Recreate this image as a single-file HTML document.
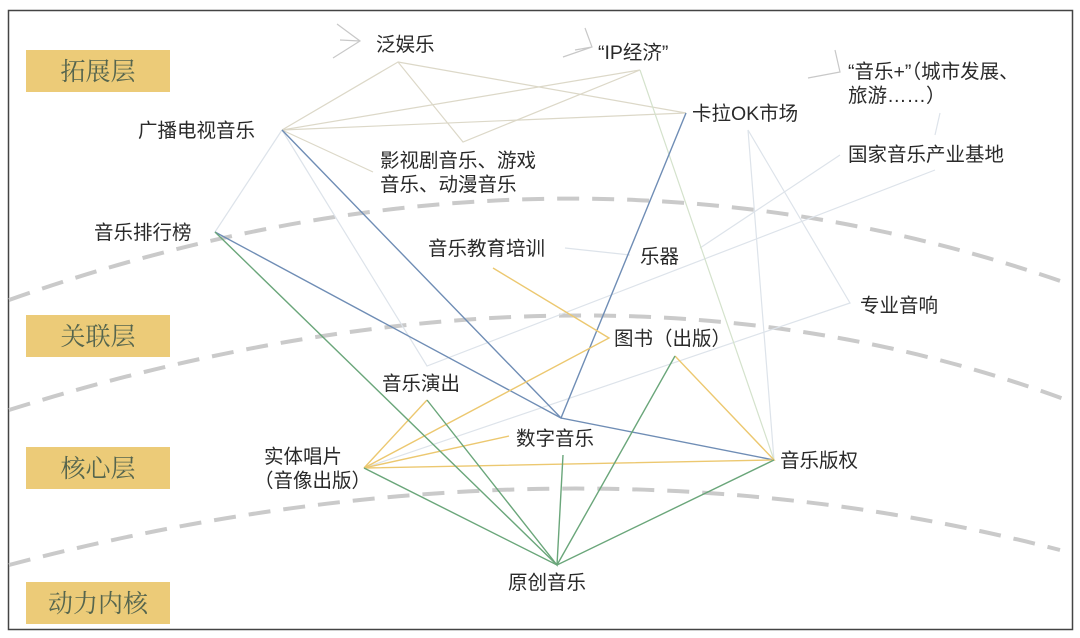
<!DOCTYPE html>
<html><head><meta charset="utf-8"><style>
body{margin:0;background:#fff;width:1080px;height:638px;overflow:hidden}
svg{display:block}
.t{font-family:"Liberation Sans","Noto Sans CJK SC",sans-serif;font-size:19.5px;fill:#2a2a2a}
.l{font-family:"Liberation Serif","Noto Serif CJK SC",serif;font-size:25px;fill:#55654e}
</style></head><body>
<svg width="1080" height="638" viewBox="0 0 1080 638">
<rect x="8.5" y="10.5" width="1064" height="619" fill="#fff" stroke="#444" stroke-width="1.5"/>
<g fill="none" stroke="#cacaca" stroke-width="4" stroke-dasharray="22 13">
<path d="M9 300 Q560 105 1072 285"/>
<path d="M9 410 Q600 225 1072 402"/>
<path d="M9 565 Q560 420 1060 550"/>
</g>
<g fill="#eccb78">
<rect x="26" y="50" width="144" height="42"/>
<rect x="26" y="315" width="144" height="42"/>
<rect x="26" y="447" width="144" height="42"/>
<rect x="26" y="582" width="144" height="42"/>
</g>
<text class="l" x="98" y="80" text-anchor="middle">拓展层</text>
<text class="l" x="98" y="345" text-anchor="middle">关联层</text>
<text class="l" x="98" y="477" text-anchor="middle">核心层</text>
<text class="l" x="98" y="612" text-anchor="middle">动力内核</text>
<g fill="none" stroke-width="1.2">
<g stroke="#dcd8c8">
<path d="M282 130 L398 62 L463 142 L640 70 L282 130"/>
<path d="M398 62 L686 113"/>
<path d="M282 130 L686 113"/>
<path d="M282 130 L373 172"/>
</g>
<g stroke="#dde3ea">
<path d="M282 130 L215 232"/>
<path d="M282 130 L427 366 L935 170"/>
<path d="M840 155 L700 248"/>
<path d="M565 248 L630 255"/>
<path d="M940 113 L935 135"/>
<path d="M364 468 L850 303 L748 130 L774 460"/>
</g>
<g stroke="#d4e2cc"><path d="M640 70 L774 460"/></g>
<g stroke="#c8c8c8">
<path d="M333 58 L360 41 L337 24 M340 40 L360 41"/>
<path d="M563 57 L592 47 L585 28 M575 50 L592 47"/>
<path d="M808 78 L840 72 L835 50"/>
</g>
<g stroke="#6f8db5" stroke-width="1.4">
<path d="M282 130 L561 418 L774 460"/>
<path d="M215 232 L561 418 L686 113"/>
</g>
<g stroke="#ecc870" stroke-width="1.4">
<path d="M364 468 L609 338 L493 268"/>
<path d="M364 468 L427 400"/>
<path d="M364 468 L509 436"/>
<path d="M364 468 L774 460 L675 356"/>
</g>
<g stroke="#6aa67a" stroke-width="1.4">
<path d="M215 232 L557 565"/>
<path d="M364 468 L557 565 L774 460"/>
<path d="M427 400 L557 565 L563 455"/>
<path d="M675 356 L557 565"/>
</g>
</g>
<g class="t">
<text x="376" y="51">泛娱乐</text>
<text x="598" y="59">“IP经济”</text>
<text x="848" y="78">“音乐+”（城市发展、</text>
<text x="848" y="102">旅游……）</text>
<text x="692" y="120">卡拉OK市场</text>
<text x="848" y="161">国家音乐产业基地</text>
<text x="138" y="137">广播电视音乐</text>
<text x="380" y="167">影视剧音乐、游戏</text>
<text x="380" y="191">音乐、动漫音乐</text>
<text x="94" y="239">音乐排行榜</text>
<text x="428" y="255">音乐教育培训</text>
<text x="640" y="263">乐器</text>
<text x="860" y="312">专业音响</text>
<text x="614" y="345">图书（出版）</text>
<text x="382" y="390">音乐演出</text>
<text x="516" y="445">数字音乐</text>
<text x="264" y="463">实体唱片</text>
<text x="254" y="487">（音像出版）</text>
<text x="780" y="467">音乐版权</text>
<text x="508" y="589">原创音乐</text>
</g>
</svg>
</body></html>
